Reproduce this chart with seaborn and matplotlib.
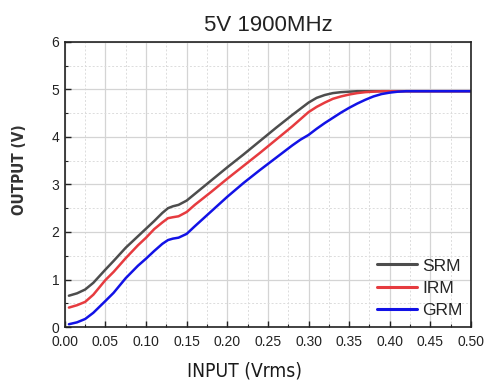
import matplotlib
matplotlib.use("Agg")
import matplotlib.pyplot as plt
import seaborn as sns
import pandas as pd
from matplotlib.ticker import MultipleLocator
from matplotlib import font_manager as fm

# ---- data ----
x_in = [0.005, 0.015, 0.025, 0.035, 0.05, 0.06, 0.075, 0.09, 0.10, 0.11, 0.12, 0.127,
        0.133, 0.14, 0.15, 0.16, 0.18, 0.20, 0.22, 0.24, 0.26, 0.28, 0.29, 0.30,
        0.31, 0.32, 0.33, 0.34, 0.35, 0.36, 0.37, 0.38, 0.39, 0.40, 0.41, 0.42,
        0.43, 0.45, 0.50]
srm = [0.66, 0.71, 0.79, 0.93, 1.21, 1.39, 1.67, 1.91, 2.07, 2.23, 2.40, 2.50,
       2.54, 2.57, 2.66, 2.80, 3.08, 3.36, 3.63, 3.91, 4.19, 4.46, 4.59, 4.72,
       4.82, 4.88, 4.92, 4.94, 4.95, 4.96, 4.96, 4.96, 4.96, 4.96, 4.96, 4.96,
       4.96, 4.96, 4.96]
irm = [0.41, 0.46, 0.53, 0.68, 0.99, 1.16, 1.45, 1.72, 1.88, 2.06, 2.20, 2.29,
       2.31, 2.33, 2.42, 2.57, 2.84, 3.12, 3.39, 3.66, 3.94, 4.22, 4.37, 4.52,
       4.63, 4.72, 4.80, 4.85, 4.89, 4.92, 4.94, 4.95, 4.96, 4.96, 4.96, 4.96,
       4.96, 4.96, 4.96]
grm = [0.06, 0.10, 0.17, 0.30, 0.55, 0.72, 1.03, 1.29, 1.44, 1.60, 1.75, 1.83,
       1.86, 1.88, 1.96, 2.12, 2.43, 2.74, 3.03, 3.30, 3.56, 3.82, 3.94, 4.04,
       4.17, 4.29, 4.40, 4.51, 4.61, 4.70, 4.78, 4.85, 4.90, 4.93, 4.95, 4.96,
       4.96, 4.96, 4.96]
series_names = ["SRM", "IRM", "GRM"]
series_colors = ["#4d4d4d", "#e63b3f", "#1212e6"]
x_ticks = [0.00, 0.05, 0.10, 0.15, 0.20, 0.25, 0.30, 0.35, 0.40, 0.45, 0.50]
y_ticks = [0, 1, 2, 3, 4, 5, 6]

df = pd.concat([
    pd.DataFrame({"x": x_in, "y": v, "s": n})
    for n, v in zip(series_names, [srm, irm, grm])
])

sns.set_theme(style="white")
names = {f.name for f in fm.fontManager.ttflist}
main_font = "Liberation Sans" if "Liberation Sans" in names else "DejaVu Sans"
narrow = "Liberation Sans Narrow" if "Liberation Sans Narrow" in names else None
plt.rcParams["font.family"] = [main_font, "DejaVu Sans"]

fig = plt.figure(figsize=(4.84, 3.83), dpi=100)
ax = fig.add_axes([0.134, 0.146, 0.839, 0.745])

sns.lineplot(data=df, x="x", y="y", hue="s", palette=dict(zip(series_names, series_colors)),
             ax=ax, linewidth=1.8, legend=True, sort=True, estimator=None)

ax.set_xlim(0, 0.5)
ax.set_ylim(0, 6)
ax.set_xticks(x_ticks)
ax.set_xticklabels([f"{t:.2f}" for t in x_ticks])
ax.set_yticks(y_ticks)
ax.set_yticklabels([str(t) for t in y_ticks])
ax.xaxis.set_minor_locator(MultipleLocator(0.025))
ax.yaxis.set_minor_locator(MultipleLocator(0.5))

ax.grid(True, which="major", color="#d4d4d4", linewidth=0.9, linestyle="-")
ax.grid(True, which="minor", color="#dcdcdc", linewidth=0.7, linestyle=(0, (2, 2)))
ax.set_axisbelow(True)

for sp in ax.spines.values():
    sp.set_color("#222222")
    sp.set_linewidth(1.2)

ax.tick_params(axis="both", which="major", direction="in", length=4, width=1,
               color="#222222", labelsize=10, labelcolor="#222222",
               bottom=True, left=True, top=False, right=False)
ax.tick_params(axis="x", which="major", pad=6)
ax.tick_params(axis="y", which="major", pad=4)
ax.tick_params(axis="both", which="minor", direction="in", length=2, width=0.8,
               color="#222222", bottom=True, left=True, top=False, right=False)

ax.set_title("5V 1900MHz", fontsize=16, color="#222222", pad=8)

if narrow:
    xl_kw = dict(family=[narrow, "DejaVu Sans"], fontsize=15.5)
    yl_kw = dict(family=[narrow, "DejaVu Sans"], fontsize=13, fontweight="bold")
else:
    xl_kw = dict(family=["DejaVu Sans"], fontstretch="condensed", fontsize=13.8)
    yl_kw = dict(family=["DejaVu Sans"], fontstretch="condensed", fontsize=11, fontweight="bold")

ax.set_xlabel("INPUT (Vrms)", color="#1a1a1a", **xl_kw)
ax.set_ylabel("OUTPUT (V)", color="#333333", **yl_kw)
ax.xaxis.set_label_coords(0.442, -0.122)
ax.yaxis.set_label_coords(-0.093, 0.55)

leg = ax.legend(loc="lower right", frameon=False, fontsize=12.5, handlelength=2.3,
                handletextpad=0.3, labelspacing=0.42, borderaxespad=0.1)
for line in leg.get_lines():
    line.set_linewidth(2.2)

fig.savefig("out.png", dpi=100)
